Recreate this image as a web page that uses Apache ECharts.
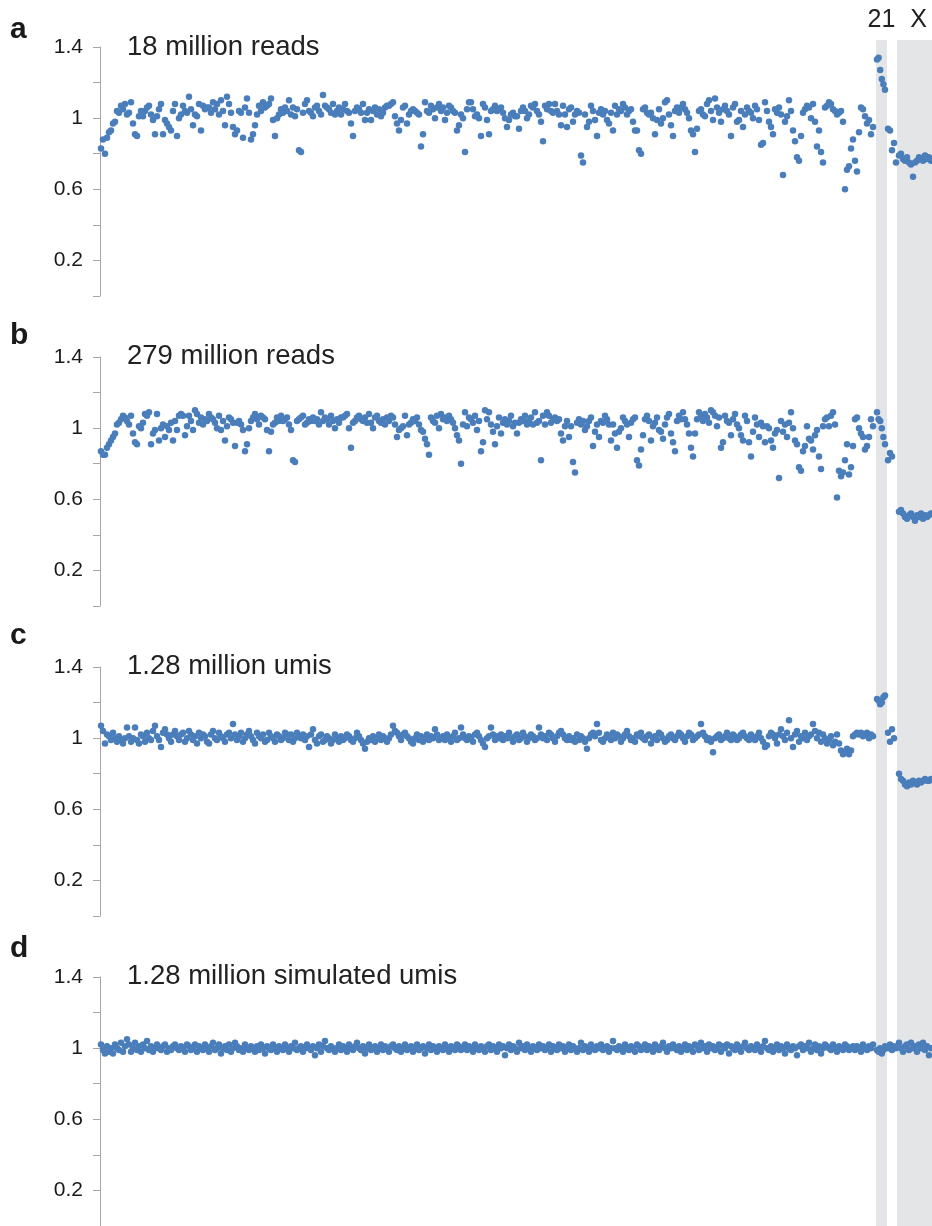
<!DOCTYPE html>
<html><head><meta charset="utf-8">
<script src="https://cdn.jsdelivr.net/npm/echarts@6/dist/echarts.min.js"></script>
<style>html,body{margin:0;padding:0;background:#fff}#c{width:932px;height:1226px}</style>
</head><body><div id="c"></div>
<script>
// ---------- data ----------
const panelLetters = ['a', 'b', 'c', 'd'];
const panelTitles = ['18 million reads', '279 million reads', '1.28 million umis', '1.28 million simulated umis'];
const yTickLabels = ['0.2', '0.6', '1', '1.4'];
const bandNames = ['21', 'X'];
const bandRanges = [[388, 393.5], [398.5, 416]];   // genomic bin units
const chr21Start = 388.5, chr21Step = 0.8;
const chr22Start = 394, chr22Step = 1;
const chrXStart = 399.5, chrXStep = 1;

const aAuto = [0.83,0.88,0.80,0.89,0.92,0.93,0.97,0.98,
1.04,1.03,1.07,1.05,1.08,1.02,1.03,1.09,
0.97,0.91,0.90,1.01,1.04,
1.01,1.04,1.06,1.07,1.02,0.99,0.91,1.01,1.05,1.08,
0.91,0.99,0.97,0.95,0.93,1.04,1.08,0.90,
1.00,1.02,1.07,1.04,1.03,1.12,1.05,0.96,1.02,1.01,1.08,0.93,
1.07,1.05,1.06,1.06,1.03,1.09,1.05,1.08,1.02,1.10,1.04,0.96,1.12,
1.08,1.03,0.95,0.91,0.93,1.04,1.03,0.89,1.06,1.11,1.03,0.88,0.91,
0.96,1.02,1.07,1.04,1.09,1.06,1.07,1.08,1.11,0.99,0.90,1.00,1.02,1.05,
1.03,1.06,1.04,1.10,1.02,1.06,1.01,1.05,0.82,0.81,1.03,1.08,1.10,
1.04,1.03,1.01,1.06,1.07,1.04,1.02,1.13,1.07,1.06,1.05,1.03,1.08,1.02,
1.04,1.06,1.02,1.05,1.08,1.04,1.03,0.97,0.90,1.04,1.06,1.05,1.03,
1.08,0.99,1.03,1.05,0.99,1.04,1.06,1.02,1.05,1.01,1.03,1.06,1.07,
1.07,1.08,1.09,1.01,0.97,0.93,0.99,1.06,1.07,0.97,1.02,1.04,1.05,
1.04,1.03,1.02,0.84,0.91,1.09,1.04,1.03,1.07,1.05,1.00,1.06,1.08,1.04,
1.06,0.99,1.03,1.07,1.06,1.04,1.03,0.93,0.96,1.02,1.00,0.81,1.05,
1.09,1.09,1.05,1.01,1.02,1.00,0.90,1.08,1.06,0.99,0.91,1.04,1.05,1.07,
1.04,1.05,1.06,1.03,1.00,0.95,0.99,1.02,1.03,1.01,
1.01,0.94,1.04,1.06,1.04,1.00,1.02,
1.07,1.06,1.08,1.04,1.02,0.98,0.87,1.07,1.05,1.08,1.04,1.03,
1.08,1.04,1.02,0.96,1.07,1.02,0.95,1.05,1.06,0.98,1.02,1.04,1.03,
0.79,0.75,1.02,0.95,0.98,1.07,1.04,0.99,0.90,1.03,1.05,1.02,
1.04,0.99,0.97,1.03,0.93,1.07,1.02,1.05,1.04,1.08,1.06,1.02,1.04,
1.05,0.98,0.93,0.93,0.82,0.80,1.05,1.06,1.03,1.02,
1.03,1.00,0.91,0.99,1.05,0.97,1.00,1.09,1.10,1.02,0.96,0.90,1.04,1.06,
1.03,1.06,1.08,1.05,1.03,1.00,0.93,0.91,0.81,0.94,1.04,1.05,1.02,
1.01,1.08,1.10,1.04,0.99,1.11,1.06,1.03,0.98,1.05,1.07,1.04,1.02,
0.90,1.06,1.08,0.98,0.99,1.04,0.95,1.02,1.06,1.04,1.03,1.00,1.07,1.05,
0.99,0.85,0.86,1.09,1.04,0.98,0.95,0.91,1.05,1.03,1.06,1.02,0.68,
0.98,1.01,1.10,1.04,0.93,0.87,0.78,0.76,0.90,1.03,1.05,1.07,1.06,
1.00,1.08,0.98,0.84,0.93,0.81,0.75,1.06,1.07,1.09,1.08,1.05,1.04,1.02,
1.03,1.04,0.98,0.60,0.71,0.73,0.83,0.88,0.76,0.70,
0.92,1.06,1.05,1.01,0.97,0.99,0.91,0.95];
const aChr21 = [1.33,1.34,1.27,1.22,1.19,1.16];
const aChr22 = [0.94,0.93,0.82,0.86,0.75];
const aChrX = [0.79,0.80,0.77,0.76,0.78,0.75,0.74,0.67,0.75,0.76,0.78,0.77,0.76,0.79,0.77,0.78,0.76];

const bAuto = [0.87,0.85,0.85,0.89,0.91,0.93,0.95,0.97,
1.02,1.03,1.05,1.07,1.06,1.04,1.02,1.07,
0.97,0.92,0.91,1.01,1.00,1.03,1.08,1.07,
1.09,0.91,0.97,0.99,1.08,0.93,1.00,1.02,
0.95,1.01,0.99,1.03,0.93,1.04,0.99,1.07,1.08,
1.07,0.96,1.01,1.07,1.04,0.99,1.10,1.08,1.03,1.06,1.02,1.05,1.04,
1.08,1.06,1.05,1.03,1.00,1.07,0.99,1.04,0.93,1.01,1.06,1.05,1.03,
0.90,1.03,1.04,1.02,0.99,0.87,0.91,1.00,1.04,1.06,1.08,1.05,1.02,1.07,
1.06,1.05,0.99,0.87,0.98,1.02,1.03,1.06,1.04,1.07,1.04,1.05,1.06,
1.02,0.99,0.82,0.81,1.04,1.05,1.06,1.07,1.02,1.03,1.05,1.04,1.06,
1.04,1.05,1.02,1.09,1.04,1.06,1.05,1.02,1.07,1.04,1.00,1.05,1.03,1.06,
1.06,1.07,1.08,1.00,0.89,1.03,1.04,1.06,1.07,1.05,1.04,1.06,1.03,
1.08,1.03,1.00,1.06,1.07,1.04,1.03,1.05,1.02,1.06,1.04,1.07,1.06,
1.02,0.95,0.99,1.00,1.01,1.07,0.96,1.02,1.03,1.05,1.04,1.06,1.02,0.99,
0.98,0.94,0.91,0.85,1.06,1.04,1.03,1.07,1.00,1.08,1.05,1.06,1.04,
1.07,1.05,1.03,1.00,0.96,0.93,0.80,1.02,1.09,1.01,1.06,1.05,1.03,1.07,
0.99,1.04,0.87,0.92,1.10,1.05,1.09,1.02,0.98,0.91,1.01,1.06,0.97,1.03,1.05,1.02,1.04,1.07,1.01,1.03,
0.97,1.03,1.05,1.04,1.07,1.02,1.04,
1.06,1.02,1.09,1.03,1.04,0.82,1.07,1.02,1.09,1.07,1.03,1.05,1.06,1.04,
1.05,0.97,0.93,1.01,1.04,0.95,1.01,0.81,0.75,1.03,1.05,1.02,1.04,
0.99,1.01,1.04,1.06,0.90,0.98,1.02,0.95,1.04,1.03,1.07,1.05,1.02,
0.93,1.02,0.97,0.89,0.98,1.00,1.06,1.04,1.02,0.95,1.03,1.05,1.06,
0.82,0.79,0.88,0.96,1.05,1.07,1.04,0.93,1.01,1.03,1.06,
0.99,0.98,0.94,1.02,1.06,1.08,0.97,0.92,0.87,1.04,1.07,1.05,1.09,
1.05,1.02,0.97,0.89,0.84,0.97,1.05,1.09,1.07,1.04,1.08,1.06,1.03,
1.10,1.09,1.07,1.01,1.06,0.89,0.92,1.07,1.04,1.03,0.96,1.05,1.08,1.02,
1.00,0.96,0.93,1.07,1.04,0.92,0.84,0.98,1.06,1.02,0.95,1.03,1.01,
0.92,1.01,1.00,0.93,0.89,0.97,0.99,0.72,1.04,0.98,1.02,0.95,1.03,
1.09,1.00,0.93,0.91,0.78,0.76,0.87,0.90,1.01,0.94,0.93,0.88,0.96,0.99,
0.84,0.77,1.01,1.05,1.06,1.01,1.07,1.09,1.02,0.61,0.76,0.73,0.75,
0.82,0.91,0.74,0.78,0.90,1.05,1.06,1.00,0.97,0.95,
0.88,0.90,0.95,1.05,1.01];
const bChr21 = [1.09,1.05,1.04,1.00,0.95,0.91];
const bChr22 = [0.82,0.86,0.84];
const bChrX = [0.53,0.54,0.52,0.50,0.49,0.51,0.52,0.50,0.48,0.51,0.50,0.52,0.49,0.51,0.50,0.51,0.52];

const cAuto = [1.07,1.04,0.97,1.02,1.01,0.99,1.03,1.00,0.98,1.01,0.99,0.97,1.00,
1.06,1.01,0.98,1.00,1.06,0.99,0.97,1.02,1.01,0.98,1.03,1.00,0.99,
1.04,1.07,1.01,0.99,0.95,1.03,1.05,1.02,1.00,0.98,1.02,1.04,1.01,
0.99,1.02,1.03,0.98,1.00,1.04,1.02,0.99,1.01,0.97,1.03,1.00,1.02,
1.01,0.98,0.97,1.02,1.04,1.00,0.99,1.03,1.01,1.00,0.98,1.02,1.03,
1.00,1.08,1.02,0.99,1.01,1.03,0.98,1.00,1.02,1.04,1.01,0.99,0.97,
1.03,1.01,1.00,1.02,0.98,0.99,1.03,1.01,1.00,0.98,1.02,1.01,0.99,
1.00,1.03,1.02,0.99,1.02,0.98,1.00,1.03,1.01,1.00,1.02,0.99,1.01,
0.95,1.02,1.05,0.99,0.97,1.01,1.02,0.98,0.99,1.01,1.00,0.97,0.99,
1.02,1.00,0.98,1.01,0.99,1.00,1.02,1.01,0.99,0.98,1.00,1.03,1.01,
0.99,0.97,0.94,0.98,1.00,0.99,1.01,0.98,1.00,1.02,0.99,1.01,1.00,
0.98,1.00,1.02,1.07,1.04,1.03,1.01,0.99,1.02,1.03,1.01,1.00,0.98,
0.97,1.00,1.02,0.99,1.01,0.98,1.00,1.02,0.99,1.01,1.00,1.05,1.02,
0.99,1.00,1.01,0.99,1.02,1.00,0.98,1.01,1.03,0.99,1.00,1.06,1.02,
1.00,0.99,1.01,1.00,0.98,1.02,1.03,1.01,0.99,0.97,0.95,1.00,1.01,
1.06,1.02,0.99,1.01,1.00,1.02,0.99,1.01,1.00,1.03,1.00,0.98,1.01,
1.02,0.99,1.00,1.03,1.01,0.98,1.00,1.02,1.01,0.99,1.00,1.06,1.02,
1.00,1.01,0.99,1.03,1.02,1.00,0.98,1.01,1.03,1.04,1.02,1.00,0.99,
1.01,0.99,1.00,0.98,1.02,0.99,1.01,1.00,0.98,0.94,1.00,1.02,1.03,
1.01,1.08,1.03,0.99,0.98,1.00,1.02,1.01,0.99,1.03,1.00,1.02,1.01,
0.98,1.00,1.02,1.04,1.01,0.99,1.00,0.98,1.02,1.01,1.03,1.00,0.99,
1.01,1.02,0.97,1.00,1.01,0.99,1.03,1.02,1.00,0.98,0.99,1.01,1.02,
1.00,0.99,1.01,1.03,1.02,1.00,0.98,1.01,1.03,1.02,0.99,1.00,1.01,
1.02,1.08,1.03,1.01,0.99,1.00,0.98,0.92,1.00,1.01,1.02,0.99,1.00,
1.01,1.03,1.00,0.99,1.02,1.01,0.99,1.00,1.02,1.03,1.01,1.00,0.99,
1.02,1.00,0.99,1.01,1.03,1.00,0.98,0.95,0.96,1.01,1.03,1.02,1.00,
0.97,1.02,1.05,1.01,0.99,1.03,1.10,1.00,0.95,1.02,1.04,0.98,1.01,
1.00,1.03,0.99,1.01,1.02,1.08,1.04,1.00,1.03,0.98,1.02,1.00,0.97,
0.99,1.01,0.96,0.98,1.02,0.97,0.93,0.91,0.92,0.94,0.91,0.93,1.01,
1.02,1.03,1.02,1.03,1.01,1.02,1.03,1.00,1.02,1.01];
const cChr21 = [1.22,1.21,1.19,1.20,1.23,1.24];
const cChr22 = [1.03,0.98,1.05,1.00];
const cChrX = [0.80,0.77,0.76,0.74,0.73,0.75,0.74,0.76,0.75,0.74,0.76,0.75,0.76,0.77,0.76,0.76,0.77];

const dAuto = [1.02,0.99,0.97,1.01,0.98,1.00,0.97,1.02,1.00,0.99,1.03,0.98,1.01,
1.05,1.02,0.98,1.00,1.03,0.99,1.01,0.98,1.02,1.00,1.04,0.99,1.01,
0.98,1.00,1.02,1.00,0.99,1.01,1.02,0.98,1.00,0.99,1.01,1.02,1.00,
0.99,1.01,1.00,0.98,1.02,1.01,0.99,1.00,1.02,0.98,1.01,1.00,0.99,
1.02,1.00,0.98,1.01,1.03,0.99,1.00,1.02,0.97,1.00,1.01,0.99,1.02,
0.98,1.00,1.03,1.01,0.99,1.00,0.98,1.02,1.00,0.99,1.01,1.00,0.98,
1.01,0.99,1.02,1.00,0.97,1.01,1.00,0.99,1.02,1.00,0.98,1.01,1.00,
0.99,1.02,1.00,0.98,1.01,1.00,1.03,0.99,1.00,1.01,0.98,1.00,1.02,
1.00,0.99,1.01,0.96,1.00,1.02,0.98,1.01,1.04,1.00,0.99,1.01,1.00,
0.98,1.00,1.02,0.99,1.01,1.00,0.98,1.02,1.00,0.99,1.01,1.03,1.00,
0.99,1.01,0.97,1.00,1.02,0.99,1.00,1.01,0.98,1.00,1.02,0.99,1.01,
1.00,0.98,1.01,1.02,1.00,0.99,1.01,0.98,1.00,1.02,0.99,1.00,1.01,
0.98,1.00,1.02,0.99,1.00,1.01,0.97,1.00,1.02,0.99,1.01,1.00,0.98,
1.01,1.00,0.99,1.02,1.00,0.98,1.01,1.00,0.99,1.02,1.01,0.99,1.00,
1.02,0.99,1.01,1.00,0.98,1.02,1.00,0.99,1.01,1.00,0.98,1.01,1.02,
0.99,1.01,1.00,0.98,1.02,1.00,1.01,0.96,1.00,1.02,0.99,1.01,1.00,
0.98,1.03,1.00,1.01,0.99,1.02,1.00,0.98,1.01,1.00,0.99,1.02,1.00,
1.01,0.99,1.00,1.02,0.98,1.01,1.00,0.99,1.02,1.00,1.01,0.98,1.00,
1.02,0.99,1.01,1.00,0.98,1.00,1.03,0.99,1.01,1.00,0.98,1.02,1.00,
0.99,1.01,1.00,1.02,0.99,1.00,1.01,0.98,1.00,1.04,1.00,0.99,1.01,
1.00,0.98,1.02,1.00,0.99,1.01,1.00,0.98,1.02,1.01,0.99,1.00,1.02,
0.99,1.01,1.00,0.98,1.02,1.00,0.99,1.01,1.03,1.00,0.98,1.01,1.00,
1.02,1.00,0.99,1.01,0.98,1.00,1.02,0.99,1.01,1.00,0.98,1.02,1.01,
0.99,1.03,1.00,1.01,0.98,1.02,1.00,1.01,0.99,1.00,1.02,0.98,1.01,
1.00,1.02,0.97,1.01,1.00,0.99,1.02,1.00,0.98,1.01,1.03,1.00,0.99,
1.01,1.00,0.99,1.02,1.00,0.98,1.01,1.04,1.00,0.99,1.01,0.98,1.00,
1.02,0.99,1.01,1.00,0.97,1.02,1.00,0.99,1.01,1.00,0.96,1.01,1.02,
0.99,1.01,1.00,1.03,0.98,1.00,1.02,0.99,1.01,0.97,1.00,1.02,1.01,
1.00,0.99,1.02,1.00,0.98,1.01,1.00,0.99,1.02,1.01,0.99,1.00,1.01,
0.99,1.01,1.00,0.98,1.02,1.00,0.99,1.01,1.00,1.02];
const dChr21 = [0.99,0.98,1.00,0.97,0.99,1.01];
const dChr22 = [1.00,1.02,0.99,1.01,1.00];
const dChrX = [1.03,1.00,0.98,1.01,1.02,0.99,1.03,1.00,1.01,0.98,1.02,1.00,1.03,0.99,1.01,0.96,1.00];

// ---------- layout / style ----------
const panelTops = [47, 357, 667, 977];
const letterTops = [15, 321, 621, 934];
const subtitleTops = [33, 342, 652, 962];
const panelH = 249;
const dotColor = '#4a7ebb';
const axisColor = '#a6a6a6';
const xMax = 416;
const sans = 'Liberation Sans, Arial, sans-serif';

const panels = [
  [aAuto, aChr21, aChr22, aChrX],
  [bAuto, bChr21, bChr22, bChrX],
  [cAuto, cChr21, cChr22, cChrX],
  [dAuto, dChr21, dChr22, dChrX]
];

function buildData(p) {
  const out = [];
  p[0].forEach((v, i) => out.push([i + 0.5, v]));
  p[1].forEach((v, i) => out.push([chr21Start + i * chr21Step, v]));
  p[2].forEach((v, i) => out.push([chr22Start + i * chr22Step, v]));
  p[3].forEach((v, i) => out.push([chrXStart + i * chrXStep, v]));
  return out;
}

function fmt(v) {
  const s = String(+(+v).toFixed(1));
  return yTickLabels.indexOf(s) >= 0 ? s : '';
}

const grids = [], xAxes = [], yAxes = [], series = [], titles = [];
panels.forEach((p, k) => {
  grids.push({ left: 100, right: 0, top: panelTops[k], height: panelH });
  xAxes.push({ type: 'value', gridIndex: k, min: 0, max: xMax, show: false });
  yAxes.push({
    type: 'value', gridIndex: k, min: 0, max: 1.4, interval: 0.2,
    axisLine: { show: true, lineStyle: { color: axisColor, width: 1 } },
    axisTick: { show: true, length: 7, lineStyle: { color: axisColor, width: 1 } },
    splitLine: { show: false },
    axisLabel: { margin: 17, fontSize: 21, fontFamily: sans, color: '#1a1a1a', formatter: fmt }
  });
  series.push({
    type: 'scatter', xAxisIndex: k, yAxisIndex: k, symbolSize: 6.5, z: 3, silent: true,
    itemStyle: { color: dotColor, opacity: 1 },
    data: buildData(p)
  });
  titles.push({ text: panelLetters[k], left: 10, top: letterTops[k], padding: 0,
    textStyle: { fontSize: 30, fontWeight: 'bold', fontFamily: sans, color: '#1a1a1a' } });
  titles.push({ text: panelTitles[k], left: 127, top: subtitleTops[k], padding: 0,
    textStyle: { fontSize: 27.5, fontWeight: 'normal', fontFamily: sans, color: '#222' } });
});

// band overlay grid spanning all panels
grids.push({ left: 100, right: 0, top: 40, bottom: 0 });
xAxes.push({ type: 'value', gridIndex: 4, min: 0, max: xMax, show: false });
yAxes.push({ type: 'value', gridIndex: 4, min: 0, max: 1, show: false });
series.push({
  type: 'scatter', xAxisIndex: 4, yAxisIndex: 4, z: 0, silent: true, data: [],
  markArea: {
    silent: true,
    itemStyle: { color: '#e4e5e7' },
    label: { show: true, position: 'top', distance: 7, fontSize: 25, fontFamily: sans, color: '#222' },
    data: bandRanges.map((r, j) => [
      { name: bandNames[j], xAxis: r[0], label: j === 1 ? { offset: [4, 0] } : {} },
      { xAxis: r[1] }
    ])
  }
});

const chart = echarts.init(document.getElementById('c'), null, { renderer: 'canvas' });
chart.setOption({
  animation: false,
  backgroundColor: '#fff',
  title: titles,
  grid: grids,
  xAxis: xAxes,
  yAxis: yAxes,
  series: series
});
</script>
</body></html>
